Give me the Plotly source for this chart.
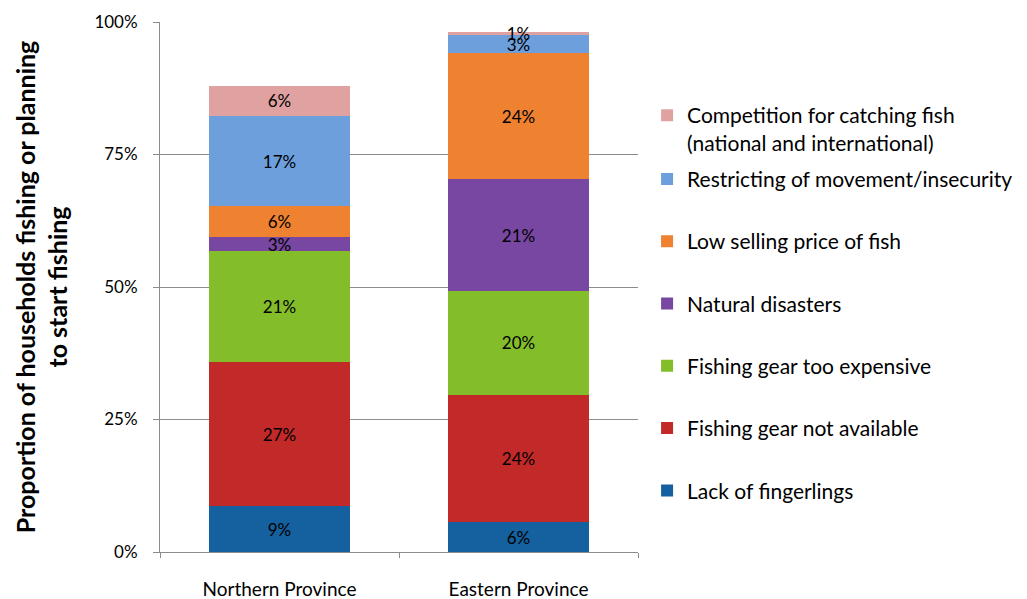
import plotly.graph_objects as go

provinces = ["Northern Province", "Eastern Province"]
series_names = [
    "Lack of fingerlings",
    "Fishing gear not available",
    "Fishing gear too expensive",
    "Natural disasters",
    "Low selling price of fish",
    "Restricting of movement/insecurity",
    "Competition for catching fish<br>(national and international)",
]
lack_of_fingerlings = [0.086, 0.056]
gear_not_available = [0.272, 0.241]
gear_too_expensive = [0.209, 0.196]
natural_disasters = [0.027, 0.210]
low_selling_price = [0.058, 0.238]
restricting_movement = [0.171, 0.034]
competition = [0.056, 0.006]
values = [lack_of_fingerlings, gear_not_available, gear_too_expensive,
          natural_disasters, low_selling_price, restricting_movement, competition]
colors = ["#15609f", "#c12a28", "#84bd2a", "#7747a1", "#ee8231", "#6c9fdc", "#dfa2a1"]
y_ticks = [0, 0.25, 0.5, 0.75, 1.0]

FONT = "Lato"
fig = go.Figure()
for i, (name, vals, col) in enumerate(zip(series_names, values, colors)):
    is_comp = name.startswith("Competition")
    fig.add_trace(go.Bar(
        x=provinces, y=vals, name=name, marker=dict(color=col, line=dict(width=0)),
        texttemplate="%{y:.0%}", textposition="inside", insidetextanchor="middle",
        textfont=dict(color="black", size=17, family=FONT),
        legendgroup=name, legendrank=100 - i,
        legend="legend2" if is_comp else "legend",
        hoverinfo="skip",
    ))

# page body has an 8px default margin, so margins are reduced by 8 on top/left
fig.update_layout(
    width=1027, height=599, barmode="stack", bargap=0.406,
    plot_bgcolor="white", paper_bgcolor="white",
    margin=dict(l=152, r=397, t=14, b=55, autoexpand=False),
    font=dict(family=FONT, size=17, color="black"),
    uniformtext=dict(minsize=17, mode="show"),
    legend=dict(x=1.019, y=0.742, xanchor="left", yanchor="top",
                traceorder="grouped", tracegroupgap=32,
                font=dict(size=21, family=FONT), bgcolor="rgba(0,0,0,0)"),
    legend2=dict(x=1.019, y=0.862, xanchor="left", yanchor="top", valign="top",
                 font=dict(size=21, family=FONT), bgcolor="rgba(0,0,0,0)"),
)
fig.update_yaxes(
    range=[0, 1], tickvals=y_ticks, tickformat=".0%", automargin=False,
    showgrid=True, gridcolor="#8c8c8c", gridwidth=1,
    showline=True, linecolor="#8c8c8c", linewidth=1,
    ticks="outside", ticklen=6, tickcolor="#8c8c8c", ticklabelstandoff=12,
    tickfont=dict(size=17, family=FONT),
    title=dict(text="<b>Proportion of households fishing or planning<br>to start fishing</b>",
               font=dict(size=25, family=FONT), standoff=19),
    zeroline=False,
)
fig.update_xaxes(
    showline=True, linecolor="#8c8c8c", linewidth=1, automargin=False,
    ticks="outside", ticklen=5, tickcolor="#8c8c8c", tickson="boundaries",
    tickfont=dict(size=19, family=FONT), ticklabelstandoff=20,
)
fig.write_html("out.html")
